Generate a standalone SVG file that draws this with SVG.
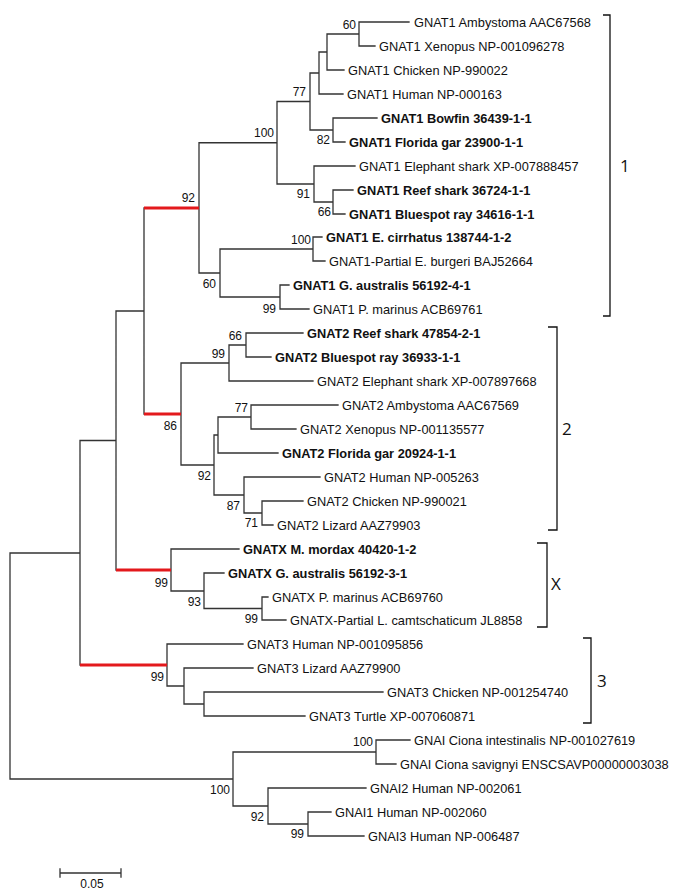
<svg xmlns="http://www.w3.org/2000/svg" width="680" height="896" viewBox="0 0 680 896">
<style>
.br{fill:none;stroke:#333;stroke-width:1.3;stroke-linecap:square}
.red{fill:none;stroke:#e3191c;stroke-width:3.2}
.bk{fill:none;stroke:#111;stroke-width:1.3}
text{font-family:"Liberation Sans",Arial,sans-serif;fill:#111}
.lf{font-size:12.8px}
.b{font-weight:bold}
.bs{font-size:12px;text-anchor:end}
.cl{font-family:"Open Sans","DejaVu Sans",sans-serif;font-size:17px}
</style>
<rect width="680" height="896" fill="#fff"/>
<g id="connectors">
<path class="br" d="
M10,553V779 M10,553H80 M10,779H233
M80,440.5V665 M80,440.5H116
M116,311V570 M116,311H144
M144,208V414
M199,142.75V273 M199,142.75H277 M199,273H220
M277,101.5V184 M277,101.5H310 M277,184H314
M310,73V130 M310,73H319 M310,130H333
M319,52V94 M319,52H327 M319,94H343
M327,34V70 M327,34H359 M327,70H344
M359,22V46 M359,22H409 M359,46H375
M333,118V142 M333,118H377 M333,142H345
M314,166V202 M314,166H355 M314,202H333
M333,190V214 M333,190H353 M333,214H345
M220,249V297 M220,249H313 M220,297H280
M313,237V261 M313,237H322 M313,261H325
M280,285V309 M280,285H289 M280,309H309
M181,363V465 M181,363H229 M181,465H214
M229,345V381 M229,345H246 M229,381H313
M246,333V357 M246,333H303 M246,357H271
M214,435V495 M214,435H218 M214,495H244
M218,417V453 M218,417H251 M218,453H278
M251,405V429 M251,405H338 M251,429H296
M244,477V513 M244,477H320 M244,513H262
M262,501V525 M262,501H303 M262,525H273
M171,549V591 M171,549H239 M171,591H204
M204,573V608.5 M204,573H224 M204,608.5H262
M262,597V620 M262,597H268 M262,620H286
M167,644V686 M167,644H243 M167,686H184
M184,668V704 M184,668H253 M184,704H204
M204,692V716 M204,692H383 M204,716H305
M233,752V806 M233,752H376 M233,806H268
M376,740V764 M376,740H410 M376,764H396
M268,788V824 M268,788H366 M268,824H308
M308,812V836 M308,812H331 M308,836H364"/>
<path class="red" d="M144,208H199 M144,414H181 M116,570H171 M80,665H167"/>
</g>
<g id="leaves" class="lf">
<g id="n0"><text x="414" y="26.5">GNAT1 Ambystoma AAC67568</text></g>
<g id="n1"><text x="379" y="50.5">GNAT1 Xenopus NP-001096278</text></g>
<g id="n2"><text x="348" y="74.5">GNAT1 Chicken NP-990022</text></g>
<g id="n3"><text x="347" y="98.5">GNAT1 Human NP-000163</text></g>
<g id="n4"><text class="b" x="381" y="122.5">GNAT1 Bowfin 36439-1-1</text></g>
<g id="n5"><text class="b" x="349" y="146.5">GNAT1 Florida gar 23900-1-1</text></g>
<g id="n6"><text x="359" y="170.5">GNAT1 Elephant shark XP-007888457</text></g>
<g id="n7"><text class="b" x="357" y="194.5">GNAT1 Reef shark 36724-1-1</text></g>
<g id="n8"><text class="b" x="349" y="218.5">GNAT1 Bluespot ray 34616-1-1</text></g>
<g id="n9"><text class="b" x="326" y="241.5">GNAT1 E. cirrhatus 138744-1-2</text></g>
<g id="n10"><text x="329" y="265.5">GNAT1-Partial E. burgeri BAJ52664</text></g>
<g id="n11"><text class="b" x="293" y="289.5">GNAT1 G. australis 56192-4-1</text></g>
<g id="n12"><text x="313" y="313.5">GNAT1 P. marinus ACB69761</text></g>
<g id="n13"><text class="b" x="307" y="337.5">GNAT2 Reef shark 47854-2-1</text></g>
<g id="n14"><text class="b" x="275" y="361.5">GNAT2 Bluespot ray 36933-1-1</text></g>
<g id="n15"><text x="317" y="385.5">GNAT2 Elephant shark XP-007897668</text></g>
<g id="n16"><text x="342" y="409.5">GNAT2 Ambystoma AAC67569</text></g>
<g id="n17"><text x="300" y="433.5">GNAT2 Xenopus NP-001135577</text></g>
<g id="n18"><text class="b" x="282" y="457.5">GNAT2 Florida gar 20924-1-1</text></g>
<g id="n19"><text x="324" y="481.5">GNAT2 Human NP-005263</text></g>
<g id="n20"><text x="307" y="505.5">GNAT2 Chicken NP-990021</text></g>
<g id="n21"><text x="277" y="529.5">GNAT2 Lizard AAZ79903</text></g>
<g id="n22"><text class="b" x="243" y="553.5">GNATX M. mordax 40420-1-2</text></g>
<g id="n23"><text class="b" x="228" y="577.5">GNATX G. australis 56192-3-1</text></g>
<g id="n24"><text x="272" y="601.5">GNATX P. marinus ACB69760</text></g>
<g id="n25"><text x="290" y="624.5">GNATX-Partial L. camtschaticum JL8858</text></g>
<g id="n26"><text x="247" y="648.5">GNAT3 Human NP-001095856</text></g>
<g id="n27"><text x="257" y="672.5">GNAT3 Lizard AAZ79900</text></g>
<g id="n28"><text x="387" y="696.5">GNAT3 Chicken NP-001254740</text></g>
<g id="n29"><text x="309" y="720.5">GNAT3 Turtle XP-007060871</text></g>
<g id="n30"><text x="414" y="744.5">GNAI Ciona intestinalis NP-001027619</text></g>
<g id="n31"><text x="400" y="768.5">GNAI Ciona savignyi ENSCSAVP00000003038</text></g>
<g id="n32"><text x="370" y="792.5">GNAI2 Human NP-002061</text></g>
<g id="n33"><text x="335" y="816.5">GNAI1 Human NP-002060</text></g>
<g id="n34"><text x="368" y="840.5">GNAI3 Human NP-006487</text></g>
</g>
<g id="support" class="bs">
<text x="356" y="29">60</text>
<text x="306" y="96">77</text>
<text x="274" y="137">100</text>
<text x="330" y="144">82</text>
<text x="310" y="198">91</text>
<text x="331" y="216">66</text>
<text x="195" y="202">92</text>
<text x="311" y="244">100</text>
<text x="216" y="288">60</text>
<text x="276" y="313">99</text>
<text x="242" y="340">66</text>
<text x="225" y="358">99</text>
<text x="248" y="412">77</text>
<text x="177" y="430">86</text>
<text x="211" y="480">92</text>
<text x="240" y="510">87</text>
<text x="258" y="527">71</text>
<text x="168" y="587">99</text>
<text x="201" y="606">93</text>
<text x="258" y="623">99</text>
<text x="164" y="681">99</text>
<text x="373" y="746">100</text>
<text x="230" y="794">100</text>
<text x="264" y="821">92</text>
<text x="304" y="838">99</text>
</g>
<g id="clade1"><path class="bk" d="M603,15H610V316H603"/><text class="cl" x="620" y="172">1</text></g>
<g id="clade2"><path class="bk" d="M548,327H557V530H548"/><text class="cl" x="562" y="435">2</text></g>
<g id="cladeX"><path class="bk" d="M537,543H547V627H537"/><text class="cl" x="551" y="590">X</text></g>
<g id="clade3"><path class="bk" d="M583,638H591V723H583"/><text class="cl" x="597" y="687">3</text></g>
<g id="scale">
<path class="br" d="M60,873H121 M60,869V877 M121,869V877"/>
<text x="92" y="888" font-size="12" text-anchor="middle">0.05</text>
</g>
</svg>
